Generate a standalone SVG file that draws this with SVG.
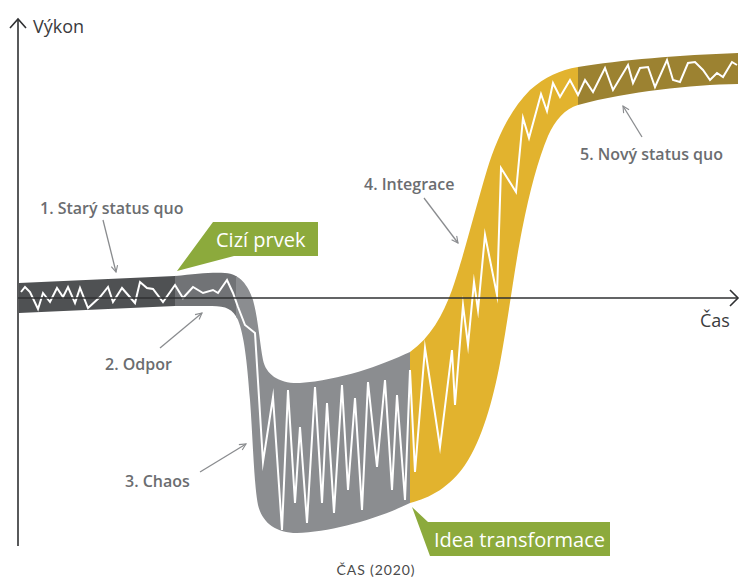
<svg xmlns="http://www.w3.org/2000/svg" width="741" height="578" viewBox="0 0 741 578">
  <style>
    .lbl { font-family: "Open Sans", "Noto Sans", sans-serif; font-weight: 600; font-size: 16px; fill: #6b6d70; }
    .axis-lbl { font-family: "Open Sans", "Noto Sans", sans-serif; font-size: 18px; fill: #3a3b3d; }
    .tag { font-family: "Open Sans", "Noto Sans", sans-serif; font-size: 20px; fill: #ffffff; }
    .tagbox { fill: #8caa3c; }
    .ptr { stroke: #8a8c8f; stroke-width: 1.3; fill: none; marker-end: url(#open); }
    .axis { stroke: #2f3032; stroke-width: 1.6; fill: none; }
    .zig { stroke: #ffffff; stroke-width: 2; fill: none; stroke-linejoin: miter; stroke-miterlimit: 10; }
    .caption { font-family: Lato, "Open Sans", sans-serif; font-size: 14px; fill: #4a4a4a; letter-spacing: 0.9px; }
  </style>
  <defs>
    <marker id="open" viewBox="0 0 10 10" refX="9" refY="5" markerWidth="8" markerHeight="8" orient="auto" markerUnits="userSpaceOnUse">
      <path d="M1,1 L9,5 L1,9" fill="none" stroke="#8a8c8f" stroke-width="1.4"/>
    </marker>
    <path id="grayBand" d="M19,283 L175,276 C195,274 212,272 225,273 C240,274 248,285 253,300 C258,318 260,345 263,360 C266,375 280,384 300,383 C340,380 380,366 410,352 L410,503 C375,520 330,532 297,533 C275,533 262,522 258,505 C254,485 253,440 250,400 C247,360 244,335 238,320 C233,309 226,306 212,306 L175,306 L19,313 Z"/>
    <clipPath id="grayClip"><use href="#grayBand"/></clipPath>
  </defs>

  <rect width="741" height="578" fill="#ffffff"/>

  <!-- performance band: status quo, resistance, chaos -->
  <g id="band-gray" clip-path="url(#grayClip)">
    <rect x="0" y="200" width="176" height="200" fill="#4f5153"/>
    <rect x="175" y="200" width="62" height="200" fill="#717376"/>
    <rect x="236" y="200" width="175" height="360" fill="#8b8d90"/>
  </g>

  <!-- integration band -->
  <g id="band-yellow">
    <path d="M410,352 C430,338 443,315 452,290 C462,262 475,210 487,170 C497,138 510,110 530,90 C545,77 560,70 578,67 L578,105 C565,109 555,120 548,136 C538,160 530,190 522,230 C515,265 508,320 500,363 C493,400 482,440 465,465 C450,487 430,498 410,503 Z" fill="#e2b32e"/>
  </g>

  <!-- new status quo band -->
  <g id="band-olive">
    <path d="M578,67 C620,60 680,55 738,53 L738,84 C690,85 630,91 578,105 Z" fill="#9c8231"/>
  </g>

  <!-- performance trace -->
  <g id="trace">
    <polyline class="zig" points="21,292 25,287 30,292 38,309 43,293 50,302 57,288 63,297 68,287 75,303 80,288 88,308 100,297 108,287 113,302 122,288 135,303 140,282 147,288 153,289 163,302 175,285 183,298 193,287 203,293 213,290 218,293 227,280 233,293 238,307 245,325 255,333 263,462 273,397 282,530 288,390 295,503 300,427 307,523 315,387 322,503 327,403 334,513 342,385 348,490 355,398 362,510 368,382 377,467 385,380 392,490 397,395 405,500 410,370 415,472 425,348 440,447 452,350 455,405 463,305 468,345 474,282 478,310 485,235 497,295 501,168 516,192 523,118 529,138 541,94 547,111 553,83 560,97 570,80 578,95 585,80 593,92 605,68 613,90 628,65 633,83 640,68 648,67 655,87 667,60 673,80 680,82 688,63 695,62 703,70 710,80 717,73 723,77 732,62 737,65"/>
  </g>

  <!-- axes -->
  <g id="axes">
    <line class="axis" x1="18" y1="19" x2="18" y2="546"/>
    <path class="axis" d="M10,28 L18,19 L26,28"/>
    <line class="axis" x1="18" y1="298" x2="738" y2="298"/>
    <path class="axis" d="M730,290 L738,298 L730,306"/>
    <text class="axis-lbl" x="33" y="33">Výkon</text>
    <text class="axis-lbl" x="700" y="327">Čas</text>
  </g>

  <!-- callouts -->
  <g id="tag-cizi-prvek">
    <polygon class="tagbox" points="213,222 318,222 318,256 234,256 177,271"/>
    <text class="tag" x="216" y="247">Cizí prvek</text>
  </g>
  <g id="tag-idea">
    <polygon class="tagbox" points="412,507 428,522 610,522 610,556 430,556"/>
    <text class="tag" x="434" y="547">Idea transformace</text>
  </g>

  <!-- phase labels -->
  <g id="label-1">
    <text class="lbl" x="40" y="214">1. Starý status quo</text>
  </g>
  <g id="label-2">
    <text class="lbl" x="105" y="370">2. Odpor</text>
  </g>
  <g id="label-3">
    <text class="lbl" x="125" y="487">3. Chaos</text>
  </g>
  <g id="label-4">
    <text class="lbl" x="364" y="190">4. Integrace</text>
  </g>
  <g id="label-5">
    <text class="lbl" x="580" y="160">5. Nový status quo</text>
  </g>

  <g id="connectors">
    <line class="ptr" x1="103" y1="220" x2="116" y2="272"/>
    <line class="ptr" x1="160" y1="348" x2="202" y2="313"/>
    <line class="ptr" x1="200" y1="472" x2="246" y2="444"/>
    <line class="ptr" x1="424" y1="198" x2="458" y2="243"/>
    <line class="ptr" x1="642" y1="137" x2="623" y2="106"/>
  </g>

  <text class="caption" x="376" y="575" text-anchor="middle">ČAS (2020)</text>
</svg>
